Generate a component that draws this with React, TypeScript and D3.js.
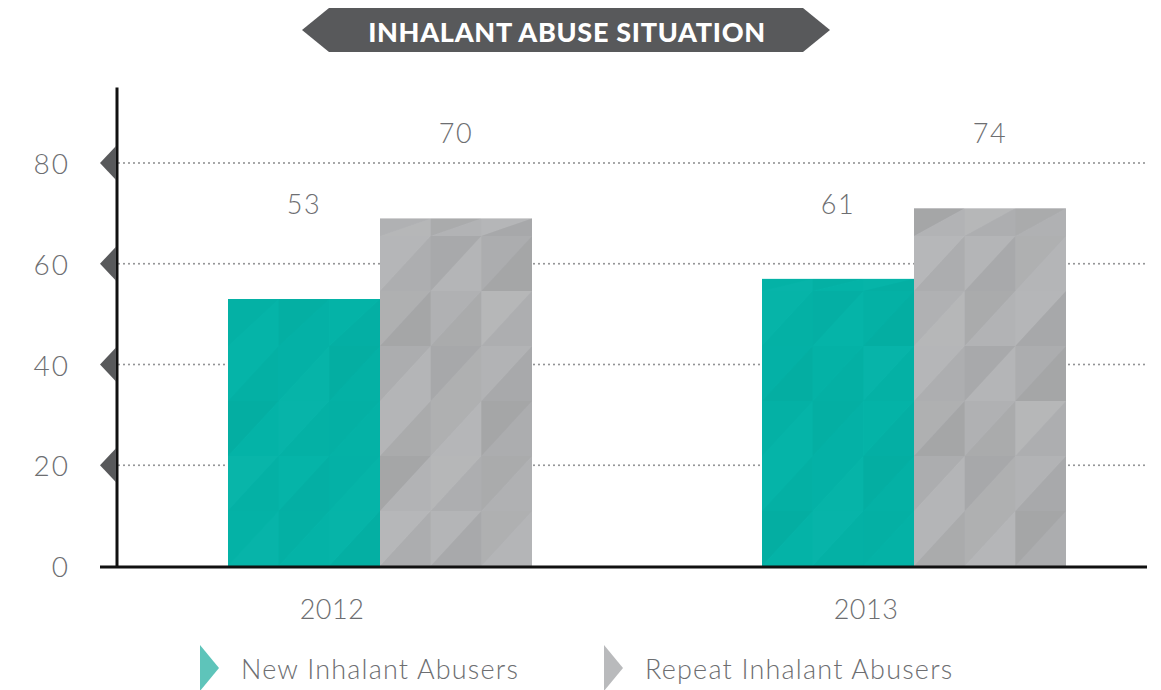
import { useEffect, useRef } from "react";
import * as d3 from "d3";

const years = ["2012", "2013"];
const seriesNames = ["New Inhalant Abusers", "Repeat Inhalant Abusers"];
// bar heights as drawn in the picture
const newBars = [53, 57];
const repeatBars = [69, 71];
// value labels printed above the bars
const newLabels = [53, 61];
const repeatLabels = [70, 74];
const yTicks = [0, 20, 40, 60, 80];

const TEAL = "#05b4a8";
const GRAY = "#b4b5b7";
const TEXT = "#6d6e71";
const FONT = "Lato, 'Open Sans', sans-serif";

export default function App() {
  const ref = useRef<SVGSVGElement>(null);

  useEffect(() => {
    if (!ref.current) return;
    const svg = d3.select(ref.current);
    svg.selectAll("*").remove();

    const y = d3.scaleLinear().domain([0, 80]).range([566, 163]);
    const x = d3.scalePoint().domain(years).range([380, 914]);
    const xs = d3.scaleBand().domain(["new", "repeat"]).range([-152, 152]);
    const left = 117,
      right = 1147;

    // title banner
    svg
      .append("polygon")
      .attr("points", "302,30 329,8 803,8 830,30 803,52 329,52")
      .attr("fill", "#58595b");
    svg
      .append("text")
      .attr("x", 567)
      .attr("y", 31)
      .attr("text-anchor", "middle")
      .attr("dominant-baseline", "central")
      .attr("fill", "#fff")
      .style("font-family", FONT)
      .style("font-weight", 900)
      .style("font-size", "27px")
      .style("letter-spacing", "0.7px")
      .text("INHALANT ABUSE SITUATION");

    // grid
    svg
      .append("g")
      .selectAll("line")
      .data(yTicks.filter((d) => d > 0))
      .enter()
      .append("line")
      .attr("x1", left + 2)
      .attr("x2", right)
      .attr("y1", (d) => y(d))
      .attr("y2", (d) => y(d))
      .attr("stroke", "#8a8b8d")
      .attr("stroke-width", 2)
      .attr("stroke-linecap", "round")
      .attr("stroke-dasharray", "0 5");

    // bars with faceted texture
    const series = [
      { key: "new", vals: newBars, labels: newLabels, color: TEAL, labelY: 203, shade: 0.035 },
      { key: "repeat", vals: repeatBars, labels: repeatLabels, color: GRAY, labelY: 132, shade: 0.09 },
    ];
    const shadeTable = [
      [0.2, -0.3, 0.6, 0.1, -0.2, 0.8],
      [-0.4, 0.5, 0.0, 0.7, 0.3, -0.1],
      [0.9, 0.1, -0.3, 0.4, 0.6, 0.2],
      [0.0, 0.6, 0.3, -0.2, 0.9, 0.5],
      [0.5, -0.1, 0.8, 0.3, 0.1, 0.7],
      [0.3, 0.9, 0.2, 0.6, -0.3, 0.4],
      [-0.2, 0.4, 0.7, 0.0, 0.5, 0.9],
    ];

    series.forEach((s, si) => {
      const g = svg.append("g");
      years.forEach((yr, i) => {
        const bx = (x(yr) as number) + (xs(s.key) as number);
        const bw = xs.bandwidth();
        const top = y(s.vals[i]);
        const bottom = y(0);
        g.append("rect")
          .attr("x", bx)
          .attr("y", top)
          .attr("width", bw)
          .attr("height", bottom - top)
          .attr("fill", s.color);
        const cw = bw / 3;
        const ch = 55;
        const rows = Math.ceil((bottom - top) / ch);
        for (let r = 0; r < rows; r++) {
          for (let c = 0; c < 3; c++) {
            const x0 = bx + c * cw;
            const y1 = bottom - r * ch;
            const y0 = Math.max(top, y1 - ch);
            const t = shadeTable[(r + i * 2 + si) % shadeTable.length];
            const a = t[(c * 2) % 6];
            const b = t[(c * 2 + 1) % 6];
            const tri = (pts: number[][], v: number) =>
              g
                .append("polygon")
                .attr("points", pts.map((p) => p.join(",")).join(" "))
                .attr("fill", v > 0 ? "#000" : "#fff")
                .attr("opacity", Math.abs(v) * s.shade);
            tri([[x0, y1], [x0, y0], [x0 + cw, y0]], a);
            tri([[x0, y1], [x0 + cw, y0], [x0 + cw, y1]], b);
          }
        }
      });
      g.selectAll("text")
        .data(years)
        .enter()
        .append("text")
        .attr("x", (d) => (x(d) as number) + (xs(s.key) as number) + xs.bandwidth() / 2)
        .attr("y", s.labelY)
        .attr("text-anchor", "middle")
        .attr("dominant-baseline", "central")
        .attr("fill", TEXT)
        .style("font-family", FONT)
        .style("font-weight", 300)
        .style("font-size", "27px")
        .style("letter-spacing", "1.5px")
        .text((d, i) => s.labels[i]);
    });

    // axes
    svg
      .append("line")
      .attr("x1", left)
      .attr("x2", left)
      .attr("y1", y(95))
      .attr("y2", y(0) + 2)
      .attr("stroke", "#111")
      .attr("stroke-width", 3);
    svg
      .append("line")
      .attr("x1", 100)
      .attr("x2", right)
      .attr("y1", y(0) + 1)
      .attr("y2", y(0) + 1)
      .attr("stroke", "#111")
      .attr("stroke-width", 3);

    // tick markers and labels
    const ticks = svg.append("g");
    ticks
      .selectAll("polygon")
      .data(yTicks.filter((d) => d > 0))
      .enter()
      .append("polygon")
      .attr("points", (d) => `100,${y(d)} 116,${y(d) - 17} 116,${y(d) + 17}`)
      .attr("fill", "#58595b");
    ticks
      .selectAll("text")
      .data(yTicks)
      .enter()
      .append("text")
      .attr("x", 70)
      .attr("y", (d) => y(d))
      .attr("text-anchor", "end")
      .attr("dominant-baseline", "central")
      .attr("fill", TEXT)
      .style("font-family", FONT)
      .style("font-weight", 300)
      .style("font-size", "28px")
      .style("letter-spacing", "2px")
      .text((d) => d);

    // year labels
    svg
      .append("g")
      .selectAll("text")
      .data(years)
      .enter()
      .append("text")
      .attr("x", (d) => (x(d) as number) - 48)
      .attr("y", 608)
      .attr("text-anchor", "middle")
      .attr("dominant-baseline", "central")
      .attr("fill", TEXT)
      .style("font-family", FONT)
      .style("font-weight", 300)
      .style("font-size", "27px")
      .style("letter-spacing", "0.5px")
      .text((d) => d);

    // legend
    const legendX = [200, 604];
    const legendColors = ["#5ec4ba", "#b9babc"];
    const lg = svg.append("g");
    seriesNames.forEach((name, i) => {
      const lx = legendX[i];
      lg.append("polygon")
        .attr("points", `${lx},645 ${lx + 19},668 ${lx},691`)
        .attr("fill", legendColors[i]);
      lg.append("text")
        .attr("x", lx + 41)
        .attr("y", 668)
        .attr("dominant-baseline", "central")
        .attr("fill", TEXT)
        .style("font-family", FONT)
        .style("font-weight", 300)
        .style("font-size", "27px")
        .style("letter-spacing", "1.2px")
        .text(name);
    });
  }, []);

  return (
    <svg
      ref={ref}
      width={1161}
      height={690}
      style={{ position: "absolute", left: 0, top: 0, background: "#fff" }}
    />
  );
}
